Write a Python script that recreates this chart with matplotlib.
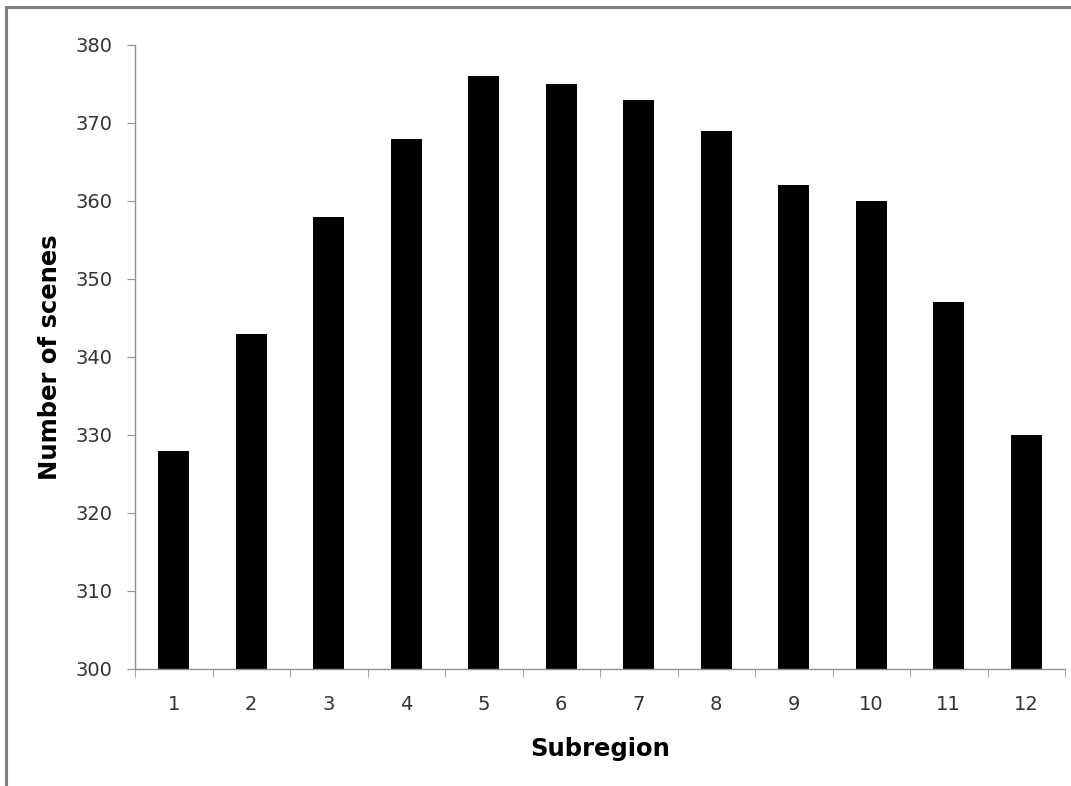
import matplotlib
matplotlib.use("Agg")
import matplotlib.pyplot as plt
from matplotlib.patches import Rectangle
import numpy as np

subregions = ["1", "2", "3", "4", "5", "6", "7", "8", "9", "10", "11", "12"]
scenes = [328, 343, 358, 368, 376, 375, 373, 369, 362, 360, 347, 330]
y_ticks = [300, 310, 320, 330, 340, 350, 360, 370, 380]

W, H = 1071, 786
fig = plt.figure(figsize=(W / 100, H / 100), dpi=100)
fig.patch.set_facecolor("white")

# grey frame around the chart area (runs off the right/bottom edge)
fig.add_artist(Rectangle((5.5 / W, -0.05), 1.2, 1 - 7.5 / H + 0.05, transform=fig.transFigure,
                         fill=False, edgecolor="#808080", lw=2.2))

ax = fig.add_axes([135 / W, 1 - 669 / H, (1065 - 135) / W, (669 - 45) / H])
x = np.arange(len(scenes))
ax.bar(x, np.array(scenes) - 300, bottom=300, width=0.4, color="black")

ax.set_xlim(-0.5, len(scenes) - 0.5)
ax.set_ylim(300, 380)
ax.set_yticks(y_ticks)
ax.set_xticks(x)
ax.set_xticklabels(subregions)
ax.set_xticks(np.arange(-0.5, len(scenes)), minor=True)

for s in ("top", "right"):
    ax.spines[s].set_visible(False)
for s in ("left", "bottom"):
    ax.spines[s].set_color("#909090")
    ax.spines[s].set_linewidth(1.0)

ax.tick_params(axis="x", which="major", length=0, pad=19, labelsize=14, labelcolor="#333333")
ax.tick_params(axis="x", which="minor", length=6, direction="out", color="#909090")
ax.tick_params(axis="y", length=6, direction="out", color="#909090", pad=10,
               labelsize=14, labelcolor="#333333")

ax.set_xlabel("Subregion", fontsize=17.5, fontweight="bold", labelpad=16)
ax.set_ylabel("Number of scenes", fontsize=17.5, fontweight="bold", labelpad=10)

fig.savefig("out.png", dpi=100)
